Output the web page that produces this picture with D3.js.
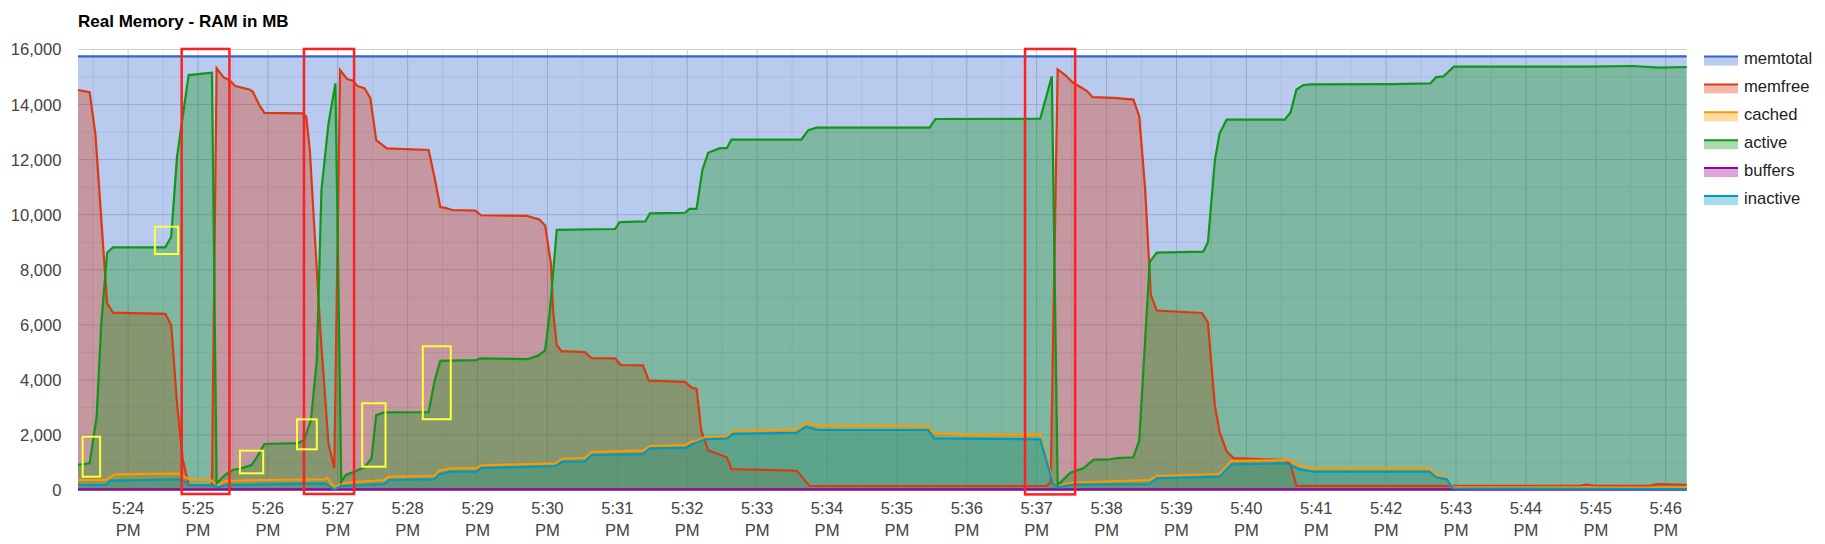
<!DOCTYPE html>
<html><head><meta charset="utf-8">
<script src="https://cdn.jsdelivr.net/npm/d3@7"></script>
<style>html,body{margin:0;padding:0;background:#fff;} svg{display:block;font-family:Arial,"Liberation Sans",sans-serif;}</style>
</head><body><svg id="chart" width="1825" height="544"></svg>
<script>
// ---------------- DATA ----------------
const chartTitle = "Real Memory - RAM in MB";
const seriesNames = ["memtotal","memfree","cached","active","buffers","inactive"];
const seriesColors = ["#3366cc","#dc3912","#ff9900","#109618","#990099","#0099c6"];
const yTicks = [0,2000,4000,6000,8000,10000,12000,14000,16000];
const xTickTimes = ["17:24","17:25","17:26","17:27","17:28","17:29","17:30","17:31","17:32","17:33","17:34","17:35","17:36","17:37","17:38","17:39","17:40","17:41","17:42","17:43","17:44","17:45","17:46"];
const timeStart = "17:23:17", timeEnd = "17:46:18";

const memtotal = [["17:23:17",15750],["17:46:18",15750]];
const memfree = [["17:23:17",14530],["17:23:27",14450],["17:23:32",12900],["17:23:42",6780],["17:23:47",6440],["17:24:32",6400],["17:24:37",5990],["17:24:42",3150],["17:24:47",1090],["17:24:52",180],["17:25:12",180],["17:25:16",15320],["17:25:22",14990],["17:25:27",14890],["17:25:32",14670],["17:25:44",14550],["17:25:47",14470],["17:25:53",13950],["17:25:57",13700],["17:26:30",13680],["17:26:33",13560],["17:26:36",12350],["17:26:40",9440],["17:26:45",5810],["17:26:52",1700],["17:26:57",790],["17:27:02",15250],["17:27:08",14930],["17:27:13",14870],["17:27:17",14670],["17:27:23",14590],["17:27:28",14230],["17:27:33",12710],["17:27:42",12410],["17:28:18",12350],["17:28:23",11370],["17:28:28",10280],["17:28:33",10240],["17:28:38",10170],["17:28:58",10150],["17:29:03",9980],["17:29:42",9960],["17:29:53",9830],["17:29:58",9610],["17:30:03",8220],["17:30:05",6450],["17:30:08",5260],["17:30:12",5045],["17:30:32",5005],["17:30:38",4790],["17:30:58",4780],["17:31:03",4540],["17:31:22",4525],["17:31:27",3970],["17:31:58",3930],["17:32:04",3710],["17:32:08",3680],["17:32:12",2170],["17:32:18",1440],["17:32:34",1190],["17:32:38",755],["17:33:34",700],["17:33:45",145],["17:37:08",145],["17:37:12",260],["17:37:18",15280],["17:37:24",15090],["17:37:31",14800],["17:37:43",14500],["17:37:48",14270],["17:38:06",14245],["17:38:23",14180],["17:38:28",13580],["17:38:33",10990],["17:38:38",7090],["17:38:43",6520],["17:39:22",6430],["17:39:27",6080],["17:39:33",3050],["17:39:37",2110],["17:39:43",1410],["17:39:49",1160],["17:40:34",1090],["17:40:38",910],["17:40:43",150],["17:44:46",150],["17:44:52",200],["17:44:59",150],["17:45:46",150],["17:45:53",210],["17:46:18",190]];
const cached = [["17:23:17",363],["17:23:41",363],["17:23:49",570],["17:24:44",600],["17:24:50",440],["17:24:53",388],["17:25:11",363],["17:25:17",171],["17:25:23",327],["17:25:57",363],["17:26:49",388],["17:26:51",447],["17:26:57",84],["17:27:03",242],["17:27:14",290],["17:27:40",363],["17:27:44",483],["17:28:23",508],["17:28:27",700],["17:28:37",787],["17:28:59",787],["17:29:03",896],["17:30:07",970],["17:30:13",1137],["17:30:32",1162],["17:30:38",1380],["17:31:22",1428],["17:31:28",1598],["17:31:59",1634],["17:32:03",1755],["17:32:08",1780],["17:32:15",1914],["17:32:34",1950],["17:32:39",2130],["17:33:34",2204],["17:33:42",2420],["17:33:52",2336],["17:35:27",2324],["17:35:32",2058],["17:36:07",2000],["17:37:03",2020],["17:37:14",300],["17:37:18",145],["17:37:31",266],["17:38:37",363],["17:38:43",508],["17:39:37",581],["17:39:47",1053],["17:40:37",1090],["17:40:46",872],["17:40:57",787],["17:42:37",787],["17:42:43",545],["17:42:50",483],["17:42:57",97],["17:46:18",90]];
const active = [["17:23:17",910],["17:23:27",970],["17:23:33",2660],["17:23:37",6050],["17:23:42",8620],["17:23:47",8815],["17:24:32",8815],["17:24:37",9200],["17:24:42",12100],["17:24:52",15070],["17:25:12",15160],["17:25:16",240],["17:25:23",545],["17:25:30",726],["17:25:37",787],["17:25:46",910],["17:25:50",1150],["17:25:57",1670],["17:26:26",1700],["17:26:31",1815],["17:26:37",2540],["17:26:42",4720],["17:26:46",10900],["17:26:52",13300],["17:26:58",14770],["17:27:03",300],["17:27:07",545],["17:27:14",666],["17:27:23",823],["17:27:29",1150],["17:27:33",2720],["17:27:40",2820],["17:28:18",2826],["17:28:23",3930],["17:28:28",4690],["17:28:59",4715],["17:29:02",4780],["17:29:43",4755],["17:29:52",4880],["17:29:58",5070],["17:30:02",6450],["17:30:05",7970],["17:30:08",9450],["17:30:58",9480],["17:31:02",9730],["17:31:24",9755],["17:31:28",10045],["17:31:58",10070],["17:32:02",10210],["17:32:08",10210],["17:32:13",11620],["17:32:18",12250],["17:32:28",12415],["17:32:34",12415],["17:32:38",12730],["17:33:38",12730],["17:33:44",13070],["17:33:51",13160],["17:35:28",13160],["17:35:33",13475],["17:37:03",13485],["17:37:13",15025],["17:37:18",180],["17:37:29",630],["17:37:40",785],["17:37:49",1100],["17:38:01",1100],["17:38:09",1160],["17:38:23",1190],["17:38:28",1790],["17:38:31",3930],["17:38:37",8280],["17:38:43",8620],["17:39:23",8660],["17:39:27",9000],["17:39:33",12000],["17:39:37",12945],["17:39:43",13450],["17:40:33",13450],["17:40:38",13725],["17:40:43",14545],["17:40:49",14710],["17:40:55",14735],["17:42:06",14745],["17:42:38",14770],["17:42:43",15000],["17:42:49",15025],["17:42:53",15175],["17:42:58",15375],["17:44:52",15375],["17:45:32",15400],["17:45:54",15340],["17:46:18",15365]];
const buffers = [["17:23:17",20],["17:46:18",20]];
const inactive = [["17:23:17",182],["17:23:41",182],["17:23:45",338],["17:24:43",388],["17:24:47",338],["17:24:53",182],["17:25:11",182],["17:25:17",97],["17:25:23",170],["17:25:57",207],["17:26:49",243],["17:26:57",25],["17:27:03",145],["17:27:40",218],["17:27:44",363],["17:28:23",388],["17:28:27",569],["17:28:37",666],["17:28:59",666],["17:29:03",799],["17:30:07",872],["17:30:13",1029],["17:30:32",1029],["17:30:38",1271],["17:31:22",1300],["17:31:28",1514],["17:31:59",1530],["17:32:03",1634],["17:32:15",1841],["17:32:34",1870],["17:32:39",2040],["17:33:34",2080],["17:33:42",2300],["17:33:52",2180],["17:35:27",2180],["17:35:32",1876],["17:37:03",1840],["17:37:14",240],["17:37:18",97],["17:37:31",194],["17:38:37",218],["17:38:43",424],["17:39:37",483],["17:39:47",932],["17:40:34",969],["17:40:46",751],["17:40:57",666],["17:42:37",666],["17:42:43",460],["17:42:52",388],["17:42:57",61],["17:46:18",36]];

// highlight annotations: [start time, end time, top value, bottom value]
const redBoxes = [["17:24:46","17:25:27",16020,-145],["17:26:31","17:27:14",16020,-145],["17:36:50","17:37:33",16020,-160]];
const yellowBoxes = [["17:23:21","17:23:36",1936,483],["17:24:23","17:24:43",9563,8572],["17:25:36","17:25:56",1428,606],["17:26:25","17:26:42",2568,1478],["17:27:21","17:27:41",3149,846],["17:28:13","17:28:37",5219,2571]];

// ---------------- CHART ----------------
const seriesData = [memtotal, memfree, cached, active, buffers, inactive];
const svg = d3.select("#chart");
const plot = {left:78, top:49.5, right:1686.7, bottom:490};
const parse = d3.timeParse("%H:%M:%S");
const parseHM = d3.timeParse("%H:%M");
const x = d3.scaleTime().domain([parse(timeStart), parse(timeEnd)]).range([plot.left, plot.right]);
const y = d3.scaleLinear().domain([0,16000]).range([plot.bottom, plot.top]);

// title
svg.append("text").attr("x",78).attr("y",27).attr("font-size",17).attr("font-weight","bold").attr("fill","#000").text(chartTitle);

// gridlines
const g = svg.append("g");
const minorY = d3.range(1000,16000,2000);
g.selectAll("line.my").data(minorY).join("line")
  .attr("x1",plot.left).attr("x2",plot.right).attr("y1",d=>y(d)).attr("y2",d=>y(d))
  .attr("stroke","#ebebeb").attr("stroke-width",1);
const halfMinutes = d3.timeSecond.every(30).range(x.domain()[0], x.domain()[1]).filter(d=>d.getSeconds()===30);
g.selectAll("line.mx").data(halfMinutes).join("line")
  .attr("x1",d=>x(d)).attr("x2",d=>x(d)).attr("y1",plot.top).attr("y2",plot.bottom)
  .attr("stroke","#ebebeb").attr("stroke-width",1);
const xTicks = xTickTimes.map(parseHM);
g.selectAll("line.Mx").data(xTicks).join("line")
  .attr("x1",d=>x(d)).attr("x2",d=>x(d)).attr("y1",plot.top).attr("y2",plot.bottom)
  .attr("stroke","#cccccc").attr("stroke-width",1);
g.selectAll("line.My").data(yTicks.filter(d=>d>0)).join("line")
  .attr("x1",plot.left).attr("x2",plot.right).attr("y1",d=>y(d)).attr("y2",d=>y(d))
  .attr("stroke","#cccccc").attr("stroke-width",1);
g.append("line").attr("x1",plot.left).attr("x2",plot.right).attr("y1",y(0)).attr("y2",y(0)).attr("stroke","#333").attr("stroke-width",1);

// axis labels
svg.append("g").selectAll("text").data(yTicks).join("text")
  .attr("x",61.5).attr("y",d=>y(d)).attr("dy","0.36em").attr("text-anchor","end")
  .attr("font-size",16.6).attr("fill","#444").text(d=>d3.format(",")(d));
const fmt1 = d3.timeFormat("%-I:%M"), fmt2 = d3.timeFormat("%p");
const xl = svg.append("g").selectAll("g").data(xTicks).join("g");
xl.append("text").attr("x",d=>x(d)).attr("y",514).attr("text-anchor","middle").attr("font-size",16.6).attr("fill","#444").text(d=>fmt1(d));
xl.append("text").attr("x",d=>x(d)).attr("y",535.5).attr("text-anchor","middle").attr("font-size",16.6).attr("fill","#444").text(d=>fmt2(d));

// areas and lines
const pts = seriesData.map(s=>s.map(([t,v])=>({t:parse(t),v})));
const area = d3.area().x(d=>x(d.t)).y0(y(0)).y1(d=>y(d.v));
const line = d3.line().x(d=>x(d.t)).y(d=>y(d.v));
const areas = svg.append("g");
pts.forEach((p,i)=>{
  areas.append("path").attr("d",area(p)).attr("fill",seriesColors[i]).attr("fill-opacity",0.35);
});
const lines = svg.append("g");
pts.forEach((p,i)=>{
  lines.append("path").attr("d",line(p)).attr("fill","none").attr("stroke",seriesColors[i]).attr("stroke-width",2.2);
});

// annotation boxes
const ann = svg.append("g").attr("fill","none");
ann.selectAll("rect.r").data(redBoxes).join("rect")
  .attr("x",d=>x(parse(d[0]))).attr("width",d=>x(parse(d[1]))-x(parse(d[0])))
  .attr("y",d=>y(d[2])).attr("height",d=>y(d[3])-y(d[2]))
  .attr("stroke","#ff2020").attr("stroke-width",2.5);
ann.selectAll("rect.yb").data(yellowBoxes).join("rect")
  .attr("x",d=>x(parse(d[0]))).attr("width",d=>x(parse(d[1]))-x(parse(d[0])))
  .attr("y",d=>y(d[2])).attr("height",d=>y(d[3])-y(d[2]))
  .attr("stroke","#ffff3a").attr("stroke-width",2);

// legend
const leg = svg.append("g");
seriesNames.forEach((n,i)=>{
  const top = 56 + i*27.9;
  leg.append("rect").attr("x",1704).attr("y",top+1).attr("width",34).attr("height",8.5)
     .attr("fill",seriesColors[i]).attr("fill-opacity",0.35);
  leg.append("line").attr("x1",1704).attr("x2",1738).attr("y1",top+0.5).attr("y2",top+0.5)
     .attr("stroke",seriesColors[i]).attr("stroke-width",2);
  leg.append("text").attr("x",1744).attr("y",top+8).attr("font-size",16.6).attr("fill","#222").text(n);
});
</script></body></html>
